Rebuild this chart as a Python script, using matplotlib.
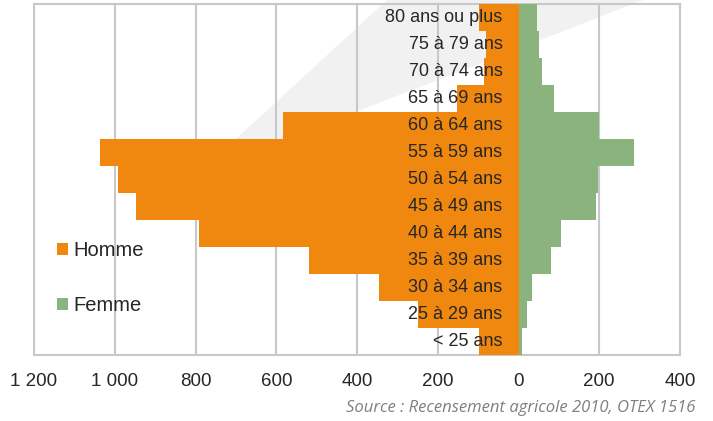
import matplotlib.pyplot as plt
from matplotlib.patches import Polygon, Patch

# age groups, bottom to top
age_groups = ['< 25 ans', '25 à 29 ans', '30 à 34 ans', '35 à 39 ans', '40 à 44 ans',
              '45 à 49 ans', '50 à 54 ans', '55 à 59 ans', '60 à 64 ans', '65 à 69 ans',
              '70 à 74 ans', '75 à 79 ans', '80 ans ou plus']
hommes = [97, 250, 345, 518, 791, 947, 993, 1036, 584, 152, 85, 81, 98]
femmes = [8, 22, 33, 80, 106, 191, 198, 287, 200, 87, 59, 52, 45]
ticks = [-1200, -1000, -800, -600, -400, -200, 0, 200, 400]
tick_labels = ['1 200', '1 000', '800', '600', '400', '200', '0', '200', '400']

ORANGE = '#F0880F'
GREEN = '#8BB37E'
GRID = '#C8C8CC'
TEXT = '#262626'

plt.rcParams['font.family'] = ['Liberation Sans', 'DejaVu Sans']

W, H = 713, 421
fig = plt.figure(figsize=(W / 100, H / 100), dpi=100)

# light grey diagonal watermark behind the chart
pts = [(199, 173), (387, 0), (643, 0)]
wedge = Polygon([(x / W, 1 - y / H) for x, y in pts], closed=True,
                transform=fig.transFigure, facecolor='#F0F1F0', edgecolor='none', zorder=-5)
fig.patches.append(wedge)

ax = fig.add_axes([34 / W, 1 - 355 / H, (680 - 34) / W, (355 - 4) / H])
ax.set_facecolor('none')
ax.set_zorder(1)

y = range(len(age_groups))
ax.barh(y, [-v for v in hommes], height=1.0, color=ORANGE, zorder=3)
ax.barh(y, femmes, height=1.0, color=GREEN, zorder=3)

ax.set_xlim(-1200, 400)
ax.set_ylim(-0.5, len(age_groups) - 0.5)

for t in ticks:
    ax.axvline(t, color=GRID, linewidth=1.5, zorder=1)

for s in ax.spines.values():
    s.set_color(GRID)
    s.set_linewidth(1.5)

ax.set_xticks(ticks)
ax.set_xticklabels(tick_labels, fontsize=13.5, color=TEXT)
ax.tick_params(axis='x', length=0, pad=13)
ax.set_yticks([])

# age labels sit inside the male bars, right aligned near zero
for i, lab in enumerate(age_groups):
    ax.annotate(lab, xy=(0, i), xytext=(-11.5, 0), textcoords='offset points',
                ha='right', va='center', fontsize=13, color=TEXT, zorder=5)

# legend
handles = [Patch(facecolor=ORANGE, edgecolor='none'), Patch(facecolor=GREEN, edgecolor='none')]
leg = fig.legend(handles, ['Homme', 'Femme'], loc='upper left',
                 bbox_to_anchor=(39 / W, 1 - 223 / H), frameon=False,
                 fontsize=14.5, labelcolor=TEXT, handlelength=0.55, handleheight=0.55,
                 handletextpad=0.25, labelspacing=1.8)
leg.set_zorder(6)

fig.text(695 / W, 1 - 408 / H, 'Source : Recensement agricole 2010, OTEX 1516',
         ha='right', va='center', fontsize=12, style='italic', color='#7F7F7F',
         family=['Open Sans', 'DejaVu Sans'])

fig.savefig('out.png', dpi=100, facecolor='white')
